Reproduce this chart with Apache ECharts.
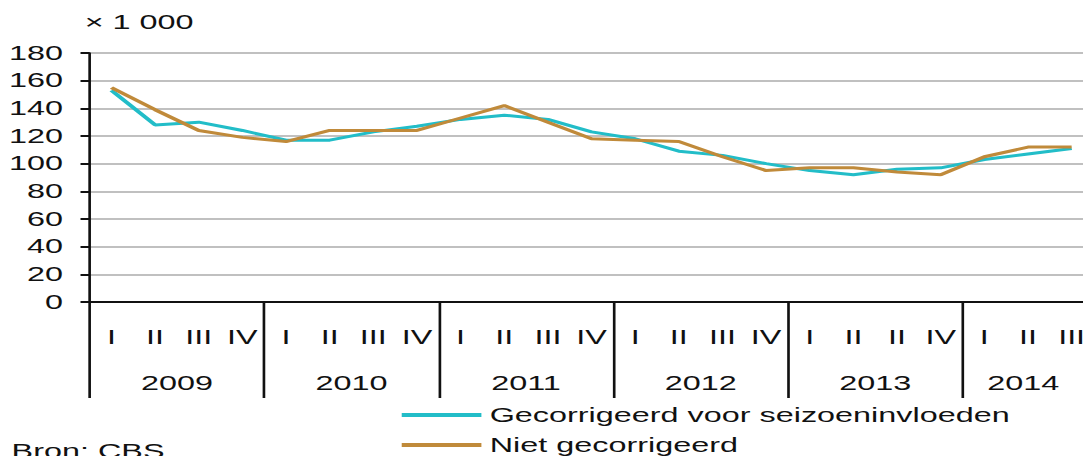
<!DOCTYPE html>
<html>
<head>
<meta charset="utf-8">
<script src="https://cdn.jsdelivr.net/npm/echarts@6.0.0/dist/echarts.min.js"></script>
<style>
	html, body { margin: 0; padding: 0; background: #fff; overflow: hidden; }
	/* the source chart is stretched sideways, so draw narrow and widen it */
	#chart { width: 653px; height: 456px; transform: scaleX(1.66); transform-origin: 0 0; }
</style>
</head>
<body>
<div id="chart"></div>
<script>
const quarters = [
	'I', 'II', 'III', 'IV',
	'I', 'II', 'III', 'IV',
	'I', 'II', 'III', 'IV',
	'I', 'II', 'III', 'IV',
	'I', 'II', 'II', 'IV',
	'I', 'II', 'III', 'IV'
];
const years = ['2009', '2010', '2011', '2012', '2013', '2014'];
const yTicks = { min: 0, max: 180, interval: 20 };

const gecorrigeerd = [
	153, 128, 130, 124,
	117, 117, 123, 127,
	132, 135, 132, 123,
	118, 109, 106, 100,
	95, 92, 96, 97,
	103, 107, 111
];
const nietGecorrigeerd = [
	155, 139, 124, 119,
	116, 124, 124, 124,
	133, 142, 130, 118,
	117, 116, 105, 95,
	97, 97, 94, 92,
	105, 112, 112
];

const chart = echarts.init(document.getElementById('chart'), null, { renderer: 'svg' });

const font = 'Liberation Sans, Arial, sans-serif';
const colors = {
	teal: '#22bdc8',
	brown: '#c08a3a',
	grid: '#c0c0c0',
	axis: '#111111',
	text: '#111111'
};

function legendItem(name, top) {
	return {
		orient: 'vertical',
		left: 242,
		top,
		padding: 0,
		icon: 'rect',
		itemWidth: 48,
		itemHeight: 4,
		data: [name],
		textStyle: {
			fontFamily: font,
			fontSize: 19.5,
			lineHeight: 20,
			color: colors.text
		}
	};
}

const option = {
	animation: false,
	grid: {
		left: 54,
		top: 53,
		width: 631,
		height: 249,
		outerBoundsMode: 'none'
	},
	legend: [
		legendItem('Gecorrigeerd voor seizoeninvloeden', 405),
		legendItem('Niet gecorrigeerd', 435)
	],
	xAxis: [
		{
			type: 'category',
			data: quarters,
			boundaryGap: true,
			axisLine: { lineStyle: { color: colors.axis, width: 2 } },
			axisTick: { show: false },
			axisLabel: {
				interval: 0,
				margin: 25,
				fontFamily: font,
				fontSize: 19.5,
				color: colors.text
			}
		},
		{
			type: 'category',
			data: years,
			position: 'bottom',
			boundaryGap: true,
			axisLine: { show: true, lineStyle: { color: colors.axis, width: 2 } },
			axisTick: {
				show: true,
				interval: 0,
				length: 96,
				lineStyle: { color: colors.axis, width: 1.6 }
			},
			axisLabel: {
				interval: 0,
				margin: 71,
				fontFamily: font,
				fontSize: 19.5,
				color: colors.text,
				// 2014 is cut off on the right, its label sits in the visible part
				formatter(value) {
					return value === '2014' ? '{cut|' + value + '}' : value;
				},
				rich: {
					cut: {
						fontFamily: font,
						fontSize: 19.5,
						color: colors.text,
						padding: [0, 32, 0, 0]
					}
				}
			}
		}
	],
	yAxis: {
		type: 'value',
		min: yTicks.min,
		max: yTicks.max,
		interval: yTicks.interval,
		axisLine: { show: true, lineStyle: { color: colors.axis, width: 1.6 } },
		axisTick: { show: true, length: 5.5, lineStyle: { color: colors.axis, width: 2 } },
		axisLabel: {
			margin: 16,
			fontFamily: font,
			fontSize: 19.5,
			color: colors.text
		},
		splitLine: { lineStyle: { color: colors.grid, width: 2 } }
	},
	graphic: [
		{
			type: 'text',
			left: 51,
			top: 12,
			style: { text: '× 1 000', font: '19.5px ' + font, fill: colors.text }
		},
		{
			type: 'text',
			left: 7,
			top: 441,
			style: { text: 'Bron: CBS', font: '19.5px ' + font, fill: colors.text }
		}
	],
	series: [
		{
			name: 'Gecorrigeerd voor seizoeninvloeden',
			type: 'line',
			xAxisIndex: 0,
			data: gecorrigeerd,
			symbol: 'none',
			color: colors.teal,
			lineStyle: { color: colors.teal, width: 3 }
		},
		{
			name: 'Niet gecorrigeerd',
			type: 'line',
			xAxisIndex: 0,
			data: nietGecorrigeerd,
			symbol: 'none',
			color: colors.brown,
			lineStyle: { color: colors.brown, width: 3 }
		}
	]
};

chart.setOption(option);
</script>
</body>
</html>
